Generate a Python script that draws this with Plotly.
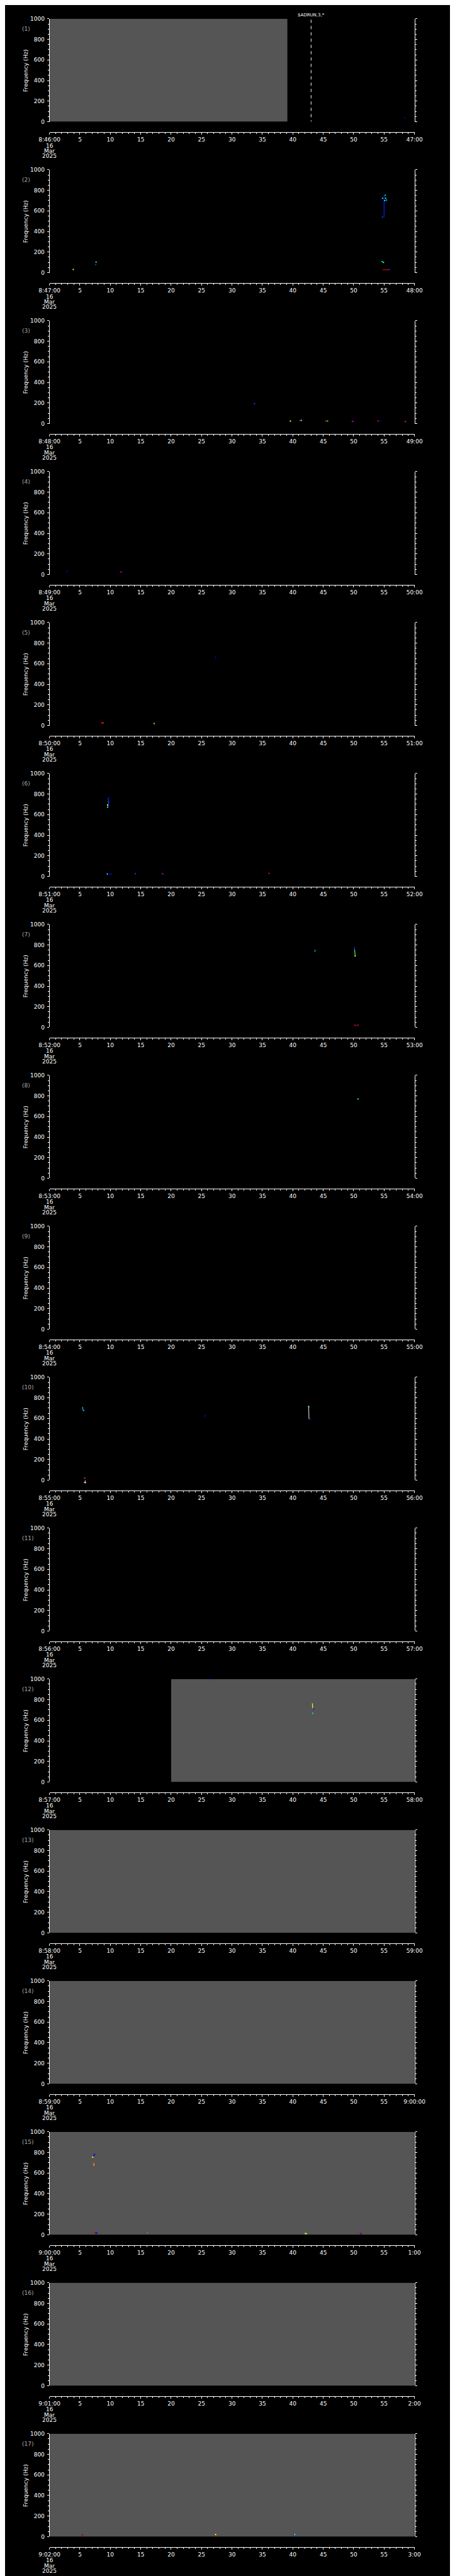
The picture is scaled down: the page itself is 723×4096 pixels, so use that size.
import plotly.graph_objects as go

# ---------------- data ----------------
panel_start_labels = ["8:46:00", "8:47:00", "8:48:00", "8:49:00", "8:50:00", "8:51:00",
                      "8:52:00", "8:53:00", "8:54:00", "8:55:00", "8:56:00", "8:57:00",
                      "8:58:00", "8:59:00", "9:00:00", "9:01:00", "9:02:00"]
panel_end_labels = ["47:00", "48:00", "49:00", "50:00", "51:00", "52:00", "53:00", "54:00",
                    "55:00", "56:00", "57:00", "58:00", "59:00", "9:00:00", "1:00", "2:00", "3:00"]
mid_tick_seconds = [5, 10, 15, 20, 25, 30, 35, 40, 45, 50, 55]
date_lines = ["16", "Mar", "2025"]
freq_ticks = [0, 200, 400, 600, 800, 1000]

# no-data (gray) intervals, seconds within the minute
gap_panel = [1, 12, 13, 14, 15, 16, 17]
gap_start = [0, 20, 0, 0, 0, 0, 0]
gap_end = [39.1, 60, 60, 60, 60, 60, 60]

# isolated spectral blips
blip_panel = [1,
              2, 2, 2, 2, 2, 2, 2, 2, 2, 2, 2, 2,
              3, 3, 3, 3, 3, 3, 3, 3, 3, 3, 3,
              4, 4, 4,
              5, 5, 5,
              6, 6, 6, 6, 6, 6, 6, 6, 6, 6, 6,
              7, 7, 7, 7,
              8,
              10, 10, 10, 10, 10,
              12, 12,
              15, 15, 15, 15, 15, 15, 15, 15, 15, 15, 15, 15,
              17, 17, 17, 17, 17, 17]
blip_time = [58.4,
             3.9, 7.66, 7.6, 54.75, 55.1, 55.25, 54.75, 55.4, 55.2, 54.7, 54.9, 55.8,
             33.7, 39.6, 41.2, 41.4, 45.4, 45.7, 49.8, 50.0, 54.0, 54.4, 58.5,
             2.9, 11.7, 11.9,
             8.6, 8.8, 17.2,
             9.55, 9.55, 9.75, 9.5, 9.9, 10.2, 14.1, 18.6, 18.7, 36.1, 9.7,
             50.25, 50.2, 50.45, 50.7,
             50.7,
             5.6, 5.8, 42.6, 42.6, 42.8,
             26.26, 43.4,
             7.1, 7.3, 7.4, 7.25, 7.35, 7.6, 7.8, 16.1, 42.0, 42.2, 50.9, 51.2,
             5.4, 5.5, 27.2, 27.3, 40.2, 40.3]
blip_freq = [39,
             31, 103, 78, 722, 700, 722, 540, 705, 751, 107, 100, 31,
             192, 25, 30, 30, 25, 25, 22, 20, 25, 25, 20,
             30, 25, 25,
             25, 25, 18,
             694, 672, 723, 23, 23, 23, 26, 26, 22, 29, 764,
             693, 20, 20, 20,
             770,
             676, 20, 719, 712, 592,
             997, 712,
             755, 770, 784, 700, 17, 17, 17, 23, 12, 12, 12, 12,
             17, 17, 21, 21, 21, 21]
blip_color = ["#0000c8",
              "#e0ff00", "#40ff40", "#0040ff", "#00e0ff", "#00e0ff", "#40ff80", "#0040ff",
              "#00c0ff", "#00e0ff", "#00e0ff", "#40ff80", "#0040ff",
              "#0040ff", "#ffff00", "#ff0000", "#00ffff", "#ff0000", "#40ff40", "#ff0000",
              "#0000ff", "#ff0000", "#0000ff", "#ff2000",
              "#0000ff", "#ff0000", "#0000ff",
              "#ff0000", "#ff2000", "#80ff00",
              "#ffff00", "#00ffff", "#0040ff", "#00ffff", "#0000ff", "#0000ff", "#0040ff",
              "#ff2000", "#0000ff", "#ff0000", "#0000ff",
              "#c0ff00", "#ff0000", "#0000ff", "#ff0000",
              "#00ffff",
              "#00c0ff", "#ff4000", "#ff2000", "#00ffff", "#0040ff",
              "#0040ff", "#0000ff",
              "#ffff00", "#0000ff", "#0000ff", "#ff2000", "#ff0000", "#0000ff", "#0000ff",
              "#40a040", "#40ff40", "#ffff00", "#ff0000", "#0000ff",
              "#0000ff", "#ff0000", "#ff0000", "#ffff00", "#0000ff", "#00ffff"]

# short streaks (time0, time1, freq0, freq1)
streak_panel = [2, 2, 5, 6, 7, 7, 7, 10, 10, 10, 12, 12, 15]
streak_time0 = [55.0, 54.75, 27.25, 9.66, 43.6, 50.1, 50.15, 5.45, 25.5, 42.6, 43.2, 43.2, 7.3]
streak_time1 = [55.0, 55.7, 27.35, 9.66, 43.7, 50.12, 50.25, 5.5, 25.6, 42.65, 43.3, 43.35, 7.3]
streak_freq0 = [751, 29, 650, 672, 733, 783, 757, 712, 612, 719, 764, 660, 703]
streak_freq1 = [537, 29, 670, 764, 753, 757, 691, 680, 638, 594, 710, 677, 668]
streak_color = ["#0020ff", "#e00000", "#0000ff", "#0030ff", "#00c0ff", "#2020ff", "#40ff60",
                "#00c0ff", "#0000ff", "#c8c8c8", "#ffff00", "#00e0ff", "#ffc000"]

event_panel = 1
event_time = 43.0
event_top_freq = 991
event_label = "$ADRUN,3,*"

note_panel = 10
note_time = 5.8
note_text = "4"

# ---------------- layout geometry (reference pixels, scaled) ----------------
S = 0.705
W, H = 723, 4096
PLOT_L, PLOT_R = 80.0, 944.5
FIRST_TOP, PERIOD, PLOT_H, AXIS_OFF = 24.0, 341.25, 232.7, 256.0
FONT = "DejaVu Sans"
FS = 9


def py(ref):
    return 1 - ref * S / H


def px(ref):
    return ref * S / W


n_panels = len(panel_start_labels)
fig = go.Figure()
layout = dict(width=W, height=H, autosize=False,
              margin=dict(l=0, r=0, t=0, b=0),
              paper_bgcolor="black", plot_bgcolor="black",
              showlegend=False, font=dict(family=FONT, size=FS, color="white"))
annotations = []

for k in range(1, n_panels + 1):
    top = FIRST_TOP + (k - 1) * PERIOD
    bot = top + PLOT_H
    ax_y = top + AXIS_OFF
    sfx = "" if k == 1 else str(k)
    xa, ya = "x" + sfx, "y" + sfx
    layout["xaxis" + sfx] = dict(
        domain=[px(PLOT_L), px(PLOT_R)], range=[0, 60], anchor="free", position=py(ax_y),
        showline=True, linecolor="white", linewidth=1, showgrid=False, zeroline=False,
        ticks="outside", ticklen=3.2, tickwidth=1, tickcolor="white",
        tickvals=[0] + mid_tick_seconds + [60],
        ticktext=[panel_start_labels[k - 1]] + [str(v) for v in mid_tick_seconds] + [panel_end_labels[k - 1]],
        tickfont=dict(family=FONT, size=FS, color="white"),
        minor=dict(dtick=1, tick0=0, ticklen=2, tickwidth=1, tickcolor="white", ticks="outside", showgrid=False),
        fixedrange=True)
    layout["yaxis" + sfx] = dict(
        domain=[py(bot), py(top)], range=[0, 1000], anchor=xa,
        showline=True, linecolor="white", linewidth=1, mirror="ticks",
        showgrid=False, zeroline=False,
        ticks="outside", ticklen=3, tickwidth=1, tickcolor="white",
        tickvals=freq_ticks, ticktext=[str(v) for v in freq_ticks],
        tickfont=dict(family=FONT, size=FS, color="white"),
        ticklabelstandoff=2,
        minor=dict(dtick=50, tick0=0, ticklen=2, tickwidth=1, tickcolor="white", ticks="outside", showgrid=False),
        fixedrange=True)

    # invisible anchor trace so every panel's axes are drawn
    fig.add_trace(go.Scatter(x=[], y=[], mode="markers", xaxis=xa, yaxis=ya, hoverinfo="skip"))

    # gray no-data spans
    for p, g0, g1 in zip(gap_panel, gap_start, gap_end):
        if p == k:
            fig.add_trace(go.Scatter(x=[g0, g1, g1, g0, g0], y=[0, 0, 1000, 1000, 0],
                                     mode="lines", fill="toself", fillcolor="#555555",
                                     line=dict(width=0, color="#555555"),
                                     xaxis=xa, yaxis=ya, hoverinfo="skip"))

    # blips
    bx = [t for p, t in zip(blip_panel, blip_time) if p == k]
    by = [f for p, f in zip(blip_panel, blip_freq) if p == k]
    bc = [c for p, c in zip(blip_panel, blip_color) if p == k]
    for i, p in enumerate(streak_panel):
        if p == k:
            fig.add_trace(go.Scatter(x=[streak_time0[i], streak_time1[i]],
                                     y=[streak_freq0[i], streak_freq1[i]],
                                     mode="lines", line=dict(color=streak_color[i], width=1.2),
                                     xaxis=xa, yaxis=ya, hoverinfo="skip"))
    if bx:
        fig.add_trace(go.Scatter(x=bx, y=by, mode="markers",
                                 marker=dict(symbol="square", size=2, color=bc, line=dict(width=0)),
                                 xaxis=xa, yaxis=ya, hoverinfo="skip"))

    # event marker
    if k == event_panel:
        fig.add_trace(go.Scatter(x=[event_time, event_time], y=[event_top_freq, 0], mode="lines",
                                 line=dict(color="white", width=1, dash="5px,5px"),
                                 xaxis=xa, yaxis=ya, hoverinfo="skip"))
        annotations.append(dict(x=event_time, xref=xa, y=py(top - 9), yref="paper",
                                 text=event_label, showarrow=False, xanchor="center", yanchor="middle",
                                 font=dict(family=FONT, size=7, color="white")))
    if k == note_panel:
        annotations.append(dict(x=note_time, xref=xa, y=py(bot + 5), yref="paper",
                                 text=note_text, showarrow=False, xanchor="center", yanchor="middle",
                                 font=dict(family=FONT, size=6.5, color="white")))

    # panel label, axis title, date lines
    annotations.append(dict(x=px(12), xref="paper", y=py(top + 23), yref="paper",
                             text="(%d)" % k, showarrow=False, xanchor="left", yanchor="middle",
                             font=dict(family=FONT, size=FS, color="#a8a8a8")))
    annotations.append(dict(x=px(23), xref="paper", y=py(top + 116.5), yref="paper",
                             text="Frequency (Hz)", showarrow=False, textangle=-90,
                             xanchor="center", yanchor="middle",
                             font=dict(family=FONT, size=FS, color="white")))
    for j, (txt, off) in enumerate(zip(date_lines, [30.7, 42.7, 54.3])):
        annotations.append(dict(x=0, xref=xa, y=py(ax_y + off), yref="paper",
                                 text=txt, showarrow=False, xanchor="center", yanchor="middle",
                                 font=dict(family=FONT, size=FS, color="white")))

layout["annotations"] = annotations
fig.update_layout(**layout)
fig.write_html("out.html")
